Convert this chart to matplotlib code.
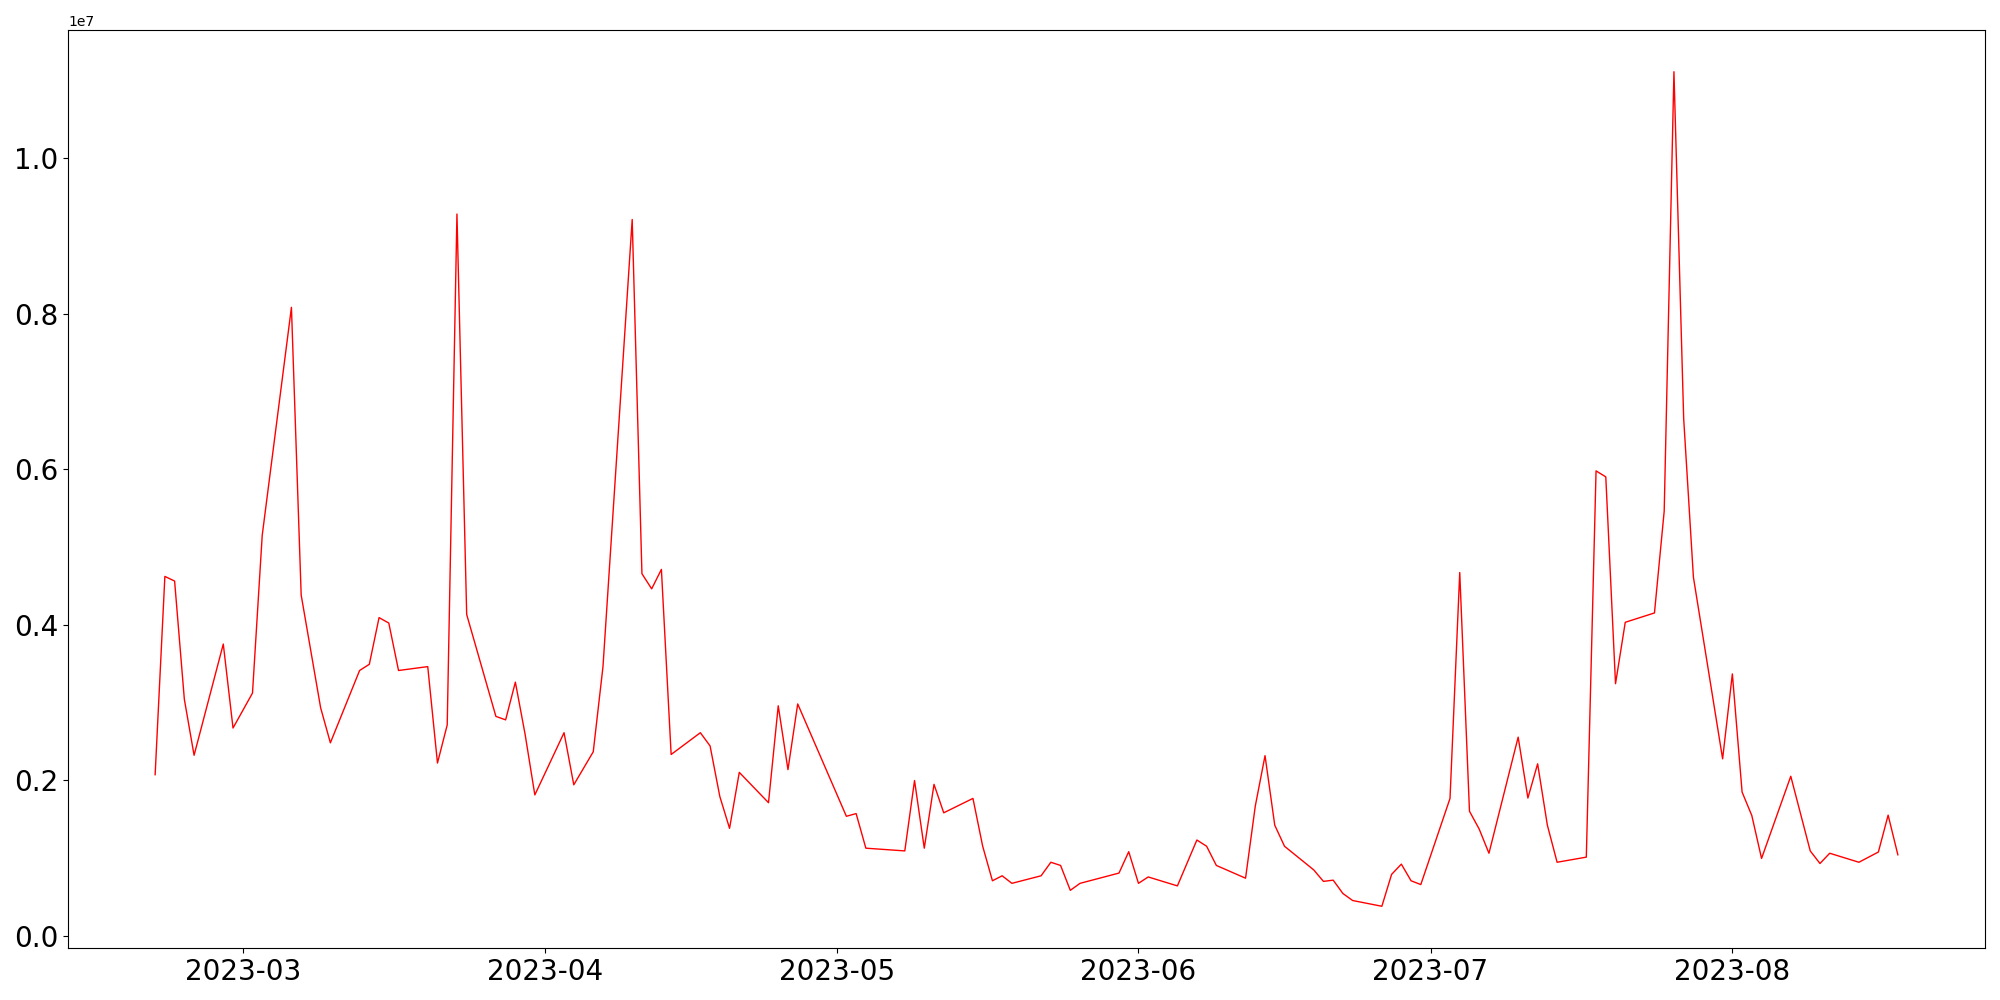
import matplotlib
matplotlib.use("Agg")
import matplotlib.pyplot as plt
import pandas as pd

dates = [
    "2023-02-20", "2023-02-21", "2023-02-22", "2023-02-23", "2023-02-24",
    "2023-02-27", "2023-02-28", "2023-03-02", "2023-03-03",
    "2023-03-06", "2023-03-07", "2023-03-09", "2023-03-10",
    "2023-03-13", "2023-03-14", "2023-03-15", "2023-03-16", "2023-03-17",
    "2023-03-20", "2023-03-21", "2023-03-22", "2023-03-23", "2023-03-24",
    "2023-03-27", "2023-03-28", "2023-03-29", "2023-03-30", "2023-03-31",
    "2023-04-03", "2023-04-04", "2023-04-06", "2023-04-07",
    "2023-04-10", "2023-04-11", "2023-04-12", "2023-04-13", "2023-04-14",
    "2023-04-17", "2023-04-18", "2023-04-19", "2023-04-20", "2023-04-21",
    "2023-04-24", "2023-04-25", "2023-04-26", "2023-04-27",
    "2023-05-02", "2023-05-03", "2023-05-04",
    "2023-05-08", "2023-05-09", "2023-05-10", "2023-05-11", "2023-05-12",
    "2023-05-15", "2023-05-16", "2023-05-17", "2023-05-18", "2023-05-19",
    "2023-05-22", "2023-05-23", "2023-05-24", "2023-05-25", "2023-05-26",
    "2023-05-30", "2023-05-31", "2023-06-01", "2023-06-02",
    "2023-06-05", "2023-06-07", "2023-06-08", "2023-06-09",
    "2023-06-12", "2023-06-13", "2023-06-14", "2023-06-15", "2023-06-16",
    "2023-06-19", "2023-06-20", "2023-06-21", "2023-06-22", "2023-06-23",
    "2023-06-26", "2023-06-27", "2023-06-28", "2023-06-29", "2023-06-30",
    "2023-07-03", "2023-07-04", "2023-07-05", "2023-07-06", "2023-07-07",
    "2023-07-10", "2023-07-11", "2023-07-12", "2023-07-13", "2023-07-14",
    "2023-07-17", "2023-07-18", "2023-07-19", "2023-07-20", "2023-07-21",
    "2023-07-24", "2023-07-25", "2023-07-26", "2023-07-27", "2023-07-28",
    "2023-07-31", "2023-08-01", "2023-08-02", "2023-08-03", "2023-08-04",
    "2023-08-07", "2023-08-09", "2023-08-10", "2023-08-11",
    "2023-08-14", "2023-08-16", "2023-08-17", "2023-08-18",
]

volume = [
    2070000, 4620000, 4560000, 3040000, 2320000,
    3750000, 2670000, 3120000, 5150000,
    8080000, 4380000, 2930000, 2480000,
    3410000, 3490000, 4090000, 4020000, 3410000,
    3460000, 2220000, 2710000, 9280000, 4130000,
    2820000, 2775000, 3260000, 2590000, 1810000,
    2610000, 1940000, 2365000, 3460000,
    9210000, 4655000, 4460000, 4710000, 2330000,
    2610000, 2440000, 1790000, 1380000, 2100000,
    1710000, 2956000, 2135000, 2980000,
    1535000, 1570000, 1125000,
    1090000, 1995000, 1125000, 1946000, 1580000,
    1765000, 1150000, 706000, 770000, 673000,
    770000, 944000, 903000, 583000, 673000,
    805000, 1080000, 673000, 755000,
    640000, 1230000, 1150000, 903000,
    739000, 1667000, 2315000, 1420000, 1150000,
    846000, 698000, 714000, 542000, 452000,
    378000, 788000, 920000, 706000, 657000,
    1765000, 4670000, 1600000, 1370000, 1060000,
    2553000, 1770000, 2210000, 1420000, 944000,
    1010000, 5977000, 5900000, 3240000, 4030000,
    4150000, 5460000, 11110000, 6650000, 4610000,
    2274000, 3366000, 1847000, 1544000, 993000,
    2050000, 1090000, 928000, 1060000,
    944000, 1076000, 1550000, 1040000,
]

x = pd.to_datetime(dates)

fig, ax = plt.subplots(figsize=(20, 10), dpi=100)
ax.plot(x, volume, color="red", linewidth=1.0)
ax.tick_params(axis="both", labelsize=20)
fig.subplots_adjust(left=0.034, right=0.9925, top=0.970, bottom=0.052)
fig.savefig("out.png", dpi=100)
